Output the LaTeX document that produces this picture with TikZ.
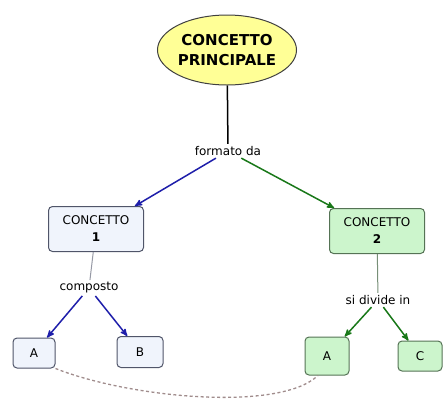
\documentclass[tikz,border=0pt]{standalone}
\usepackage{fontspec}
\setmainfont{DejaVu Sans}
\usepackage{tikz}
\usetikzlibrary{arrows,shapes.geometric,positioning}
\definecolor{mainfill}{RGB}{255,255,150}
\definecolor{bluefill}{RGB}{240,244,252}
\definecolor{greenfill}{RGB}{204,245,204}
\definecolor{blueline}{RGB}{80,85,105}
\definecolor{greenline}{RGB}{85,115,85}
\definecolor{bluearrow}{RGB}{30,30,170}
\definecolor{greenarrow}{RGB}{25,120,25}
\definecolor{crosslink}{RGB}{160,140,140}

\begin{document}
\begin{tikzpicture}[x=1pt,y=-1pt,>=stealth',line width=1pt,
	main/.style={draw=gray!50!black,fill=mainfill,ellipse,inner sep=0pt,minimum width=122pt,minimum height=70pt,align=center,font=\fontsize{15}{20}\selectfont\bfseries},
	concept/.style={draw=blueline,rounded corners=4pt,inner sep=0pt,align=center,font=\fontsize{12}{17}\selectfont},
	bluebox/.style={concept,fill=bluefill},
	greenbox/.style={concept,fill=greenfill,draw=greenline},
	linking/.style={inner sep=2pt,font=\fontsize{12}{14}\selectfont},
	bluelink/.style={->,draw=bluearrow,line width=1.5pt},
	greenlink/.style={->,draw=greenarrow,line width=1.5pt}]
	\useasboundingbox (0,0) rectangle (446,405);

	\node[main]									(main)		at (227,50)		{CONCETTO\\PRINCIPALE};
	\node[linking]								(formato)	at (228,151)	{formato da};
	\node[bluebox,minimum width=95pt,minimum height=45pt]	(c1)	at (96,229)		{CONCETTO\\\textbf{1}};
	\node[greenbox,minimum width=95pt,minimum height=45pt]	(c2)	at (377,231)	{CONCETTO\\\textbf{2}};
	\node[linking]								(composto)	at (89,288)		{composto};
	\node[linking]								(divide)	at (378,300)	{si divide in};
	\node[bluebox,minimum width=42pt,minimum height=30pt]	(a1)	at (34,353)		{A};
	\node[bluebox,minimum width=46pt,minimum height=31pt]	(b)		at (140,352)	{B};
	\node[greenbox,minimum width=44pt,minimum height=38pt]	(a2)	at (327,356)	{A};
	\node[greenbox,minimum width=44pt,minimum height=30pt]	(c)		at (420,356)	{C};

	\path
		(main)		edge	[black,line width=1.5pt]	(formato)
		(formato)	edge	[bluelink]					(c1)
		(formato)	edge	[greenlink]					(c2)
		(c1)		edge	[draw=blueline!60]			(composto)
		(composto)	edge	[bluelink]					(a1)
		(composto)	edge	[bluelink]					(b)
		(c2)		edge	[draw=greenline!80]			(divide)
		(divide)	edge	[greenlink]					(a2)
		(divide)	edge	[greenlink]					(c)
	;
	% collegamento trasversale
	\draw[crosslink,line width=1.3pt,dash pattern=on 3pt off 2.5pt] (a1.south east) .. controls (130,398) and (280,412) .. (a2.-115);
\end{tikzpicture}
\end{document}
